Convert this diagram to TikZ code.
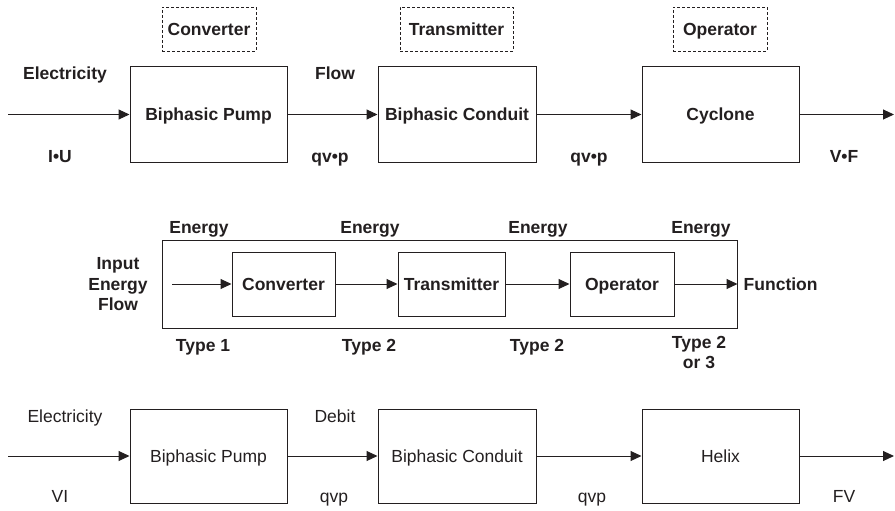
\documentclass[tikz,border=0pt]{standalone}
\usepackage{fontspec}
\setmainfont{Liberation Sans}
\usetikzlibrary{arrows.meta}
\definecolor{ink}{HTML}{231F20}
\begin{document}
\begin{tikzpicture}[x=1pt,y=-1pt,
  every node/.style={font=\fontsize{17.5}{21}\selectfont, text=ink},
  lbl/.style={font=\fontsize{17.5}{21}\selectfont\bfseries, inner sep=0pt, anchor=base},
  lblr/.style={font=\fontsize{17.5}{21}\selectfont, inner sep=0pt, anchor=base},
  boxbase/.style={draw=ink, line width=1pt, rectangle, inner sep=0pt, text height=12.5pt, text depth=0pt},
  blk/.style={boxbase, minimum height=95pt, font=\fontsize{17.5}{21}\selectfont\bfseries},
  blkr/.style={boxbase, minimum height=94pt, font=\fontsize{17.5}{21}\selectfont},
  dbox/.style={boxbase, line width=0.8pt, dash pattern=on 3pt off 2pt, minimum height=44pt, font=\fontsize{17.5}{21}\selectfont\bfseries},
  sbox/.style={boxbase, minimum height=64pt, font=\fontsize{17.5}{21}\selectfont\bfseries},
  flow/.style={draw=ink, line width=1pt, -{Triangle[length=11pt,width=10pt]}}
]
\useasboundingbox (0,0) rectangle (895,511);

% ---------- top row ----------
\node[dbox, minimum width=94pt] (dconv) at (209,29) {Converter};
\node[dbox, minimum width=113pt] (dtrans) at (456.5,29) {Transmitter};
\node[dbox, minimum width=94pt] (doper) at (720,29) {Operator};

\node[blk, minimum width=157pt] (pump1) at (208.5,114.5) {Biphasic Pump};
\node[blk, minimum width=158pt] (cond1) at (457,114.5) {Biphasic Conduit};
\node[blk, minimum width=157pt] (cycl) at (720.5,114.5) {Cyclone};

\coordinate (s1) at (8,114.5);
\coordinate (e1) at (894,114.5);
\draw[flow] (s1) -- (pump1);
\draw[flow] (pump1) -- (cond1);
\draw[flow] (cond1) -- (cycl);
\draw[flow] (cycl) -- (e1);

\node[lbl] (t1) at (65,79.5) {Electricity};
\node[lbl] (t2) at (60,162) {I•U};
\node[lbl] (t3) at (335,80) {Flow};
\node[lbl] (t4) at (330,162) {qv•p};
\node[lbl] (t5) at (589,162) {qv•p};
\node[lbl] (t6) at (844,162) {V•F};

% ---------- middle ----------
\node[draw=ink, line width=1pt, rectangle, minimum width=575pt, minimum height=88pt, inner sep=0pt] (outer) at (449.5,284) {};
\node[sbox, minimum width=103pt] (conv) at (283.5,284) {Converter};
\node[sbox, minimum width=107pt] (trans) at (451.5,284) {Transmitter};
\node[sbox, minimum width=104pt] (oper) at (622,284) {Operator};
\coordinate (s2) at (172,284);
\draw[flow] (s2) -- (conv);
\draw[flow] (conv) -- (trans);
\draw[flow] (trans) -- (oper);
\draw[flow] (oper) -- (outer.east);

\node[lbl] (m1) at (199,233.3) {Energy};
\node[lbl] (m2) at (370,233.3) {Energy};
\node[lbl] (m3) at (538,233.3) {Energy};
\node[lbl] (m4) at (701,233.3) {Energy};
\node[lbl] (m5a) at (118,269) {Input};
\node[lbl] (m5b) at (118,290) {Energy};
\node[lbl] (m5c) at (118,310.7) {Flow};
\node[lbl, anchor=base west] (m6) at (743.5,290) {Function};
\node[lbl] (m7) at (203,351) {Type 1};
\node[lbl] (m8) at (369,351) {Type 2};
\node[lbl] (m9) at (537,351) {Type 2};
\node[lbl] (m10a) at (699,348.3) {Type 2};
\node[lbl] (m10b) at (699,368.3) {or 3};

% ---------- bottom row ----------
\node[blkr, minimum width=157pt] (pump2) at (208.5,456) {Biphasic Pump};
\node[blkr, minimum width=158pt] (cond2) at (457,456) {Biphasic Conduit};
\node[blkr, minimum width=157pt] (helix) at (720.5,456) {Helix};
\coordinate (s3) at (8,456);
\coordinate (e3) at (894,456);
\draw[flow] (s3) -- (pump2);
\draw[flow] (pump2) -- (cond2);
\draw[flow] (cond2) -- (helix);
\draw[flow] (helix) -- (e3);

\node[lblr] (b1) at (65,422.7) {Electricity};
\node[lblr] (b2) at (60,502.7) {VI};
\node[lblr] (b3) at (335,422.7) {Debit};
\node[lblr] (b4) at (334,502.7) {qvp};
\node[lblr] (b5) at (592,502.7) {qvp};
\node[lblr] (b6) at (844,502.7) {FV};
\end{tikzpicture}
\end{document}
